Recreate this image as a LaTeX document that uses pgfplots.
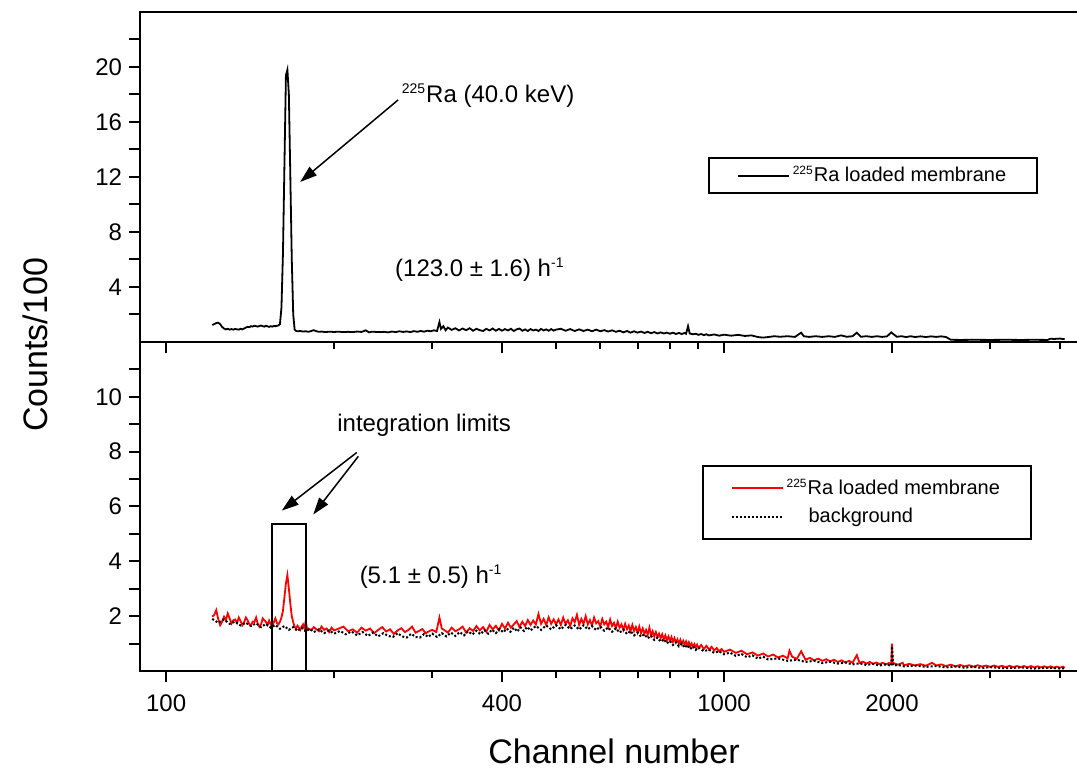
\documentclass[border=0pt]{standalone}
\usepackage{fontspec}
\setmainfont{Liberation Sans}
\usepackage{pgfplots}
\pgfplotsset{compat=1.18}
\usetikzlibrary{arrows.meta}

\newcommand{\sups}[2]{\textsuperscript{\fontsize{#1}{#1}\selectfont #2}}

\pgfplotsset{
  every axis/.append style={
    width=473.5pt, scale only axis, anchor=south west,
    axis line style={line width=1pt},
    every tick/.style={line width=1pt, black},
    tick align=outside,
    xtick pos=lower, ytick pos=left,
    major tick length=5.5pt, minor tick length=3.5pt,
    tick label style={font=\fontsize{12}{12}\selectfont},
    clip mode=individual,
    legend cell align=left,
    legend style={anchor=north west, draw=black, line width=1pt,
      font=\fontsize{10}{12}\selectfont, inner xsep=14pt, inner ysep=2.5pt,
      nodes={inner sep=1.5pt}},
  },
  legend image code/.code={\draw[#1] (0pt,0pt) -- (25.5pt,0pt);},
}

\begin{document}
\begin{tikzpicture}

% upper panel: 225Ra loaded membrane
\begin{axis}[xmode=log, xmin=89.8, xmax=4473, ymin=0, ymax=24,
  at={(0,164.5pt)}, height=165pt,
  xtick={100,400,1000,2000},
  minor xtick={200,300,500,600,700,800,900,3000,4000},
  xticklabels={\relax,\relax,\relax,\relax},
  ytick={2,4,...,22}, yticklabels={,4,,8,,12,,16,,20,},
  legend style={at={(0.5998,0.5597)}}]
\addplot[black, line width=0.9pt] coordinates {
(121,1.24)(122,1.30)(123,1.38)(124,1.40)(125,1.30)(126,1.10)(127,0.98)(128,0.92)(129,0.96)(130,0.90)
(131,0.94)(132,0.90)(133,0.95)(134,0.92)(135,0.90)(136,0.96)(137,0.92)(138,0.98)(139,1.05)(140,1.10)
(141,1.08)(142,1.15)(143,1.12)(144,1.18)(145,1.15)(146,1.12)(147,1.16)(148,1.20)(149,1.15)(150,1.12)
(151,1.18)(152,1.14)(153,1.10)(154,1.15)(155,1.12)(156,1.16)(157,1.15)(158,1.18)(159,1.20)(160,1.30)
(161,2.5)(162,6.5)(163,13.0)(164,19.4)(165,19.8)(166,18.0)(167,12.0)(168,6.0)(169,2.0)(170,0.90)
(171,0.80)(172,0.78)(174,0.80)(176,0.76)(178,0.78)(180,0.74)(182,0.80)(184,0.86)(186,0.78)(188,0.74)
(190,0.76)(193,0.72)(196,0.75)(200,0.73)(204,0.75)(208,0.72)(212,0.74)(216,0.72)(220,0.76)(224,0.73)
(228,0.85)(231,0.70)(234,0.75)(238,0.73)(242,0.72)(246,0.74)(250,0.70)(254,0.76)(258,0.72)(262,0.78)
(266,0.73)(270,0.77)(274,0.72)(278,0.79)(282,0.74)(286,0.80)(290,0.75)(294,0.82)(298,0.78)(302,0.85)
(306,0.80)(309,1.45)(311,0.95)(314,1.15)(317,0.85)(320,1.05)(325,0.88)(330,1.00)(335,0.84)(340,0.98)
(345,0.86)(350,1.00)(355,0.82)(360,0.96)(365,0.86)(370,0.80)(375,0.96)(380,0.84)(385,0.98)(390,0.82)
(395,0.95)(400,0.82)(405,0.94)(410,0.84)(415,0.96)(420,0.80)(425,0.92)(430,0.98)(435,0.82)(440,0.92)
(445,0.80)(450,0.94)(455,0.84)(460,0.90)(465,0.80)(470,0.95)(475,0.84)(480,0.92)(485,0.82)(490,0.94)
(495,0.83)(500,0.90)(510,0.96)(520,0.82)(530,0.94)(540,0.80)(550,0.92)(560,0.80)(570,0.90)(580,0.78)
(590,0.90)(600,0.78)(610,0.86)(620,0.76)(630,0.85)(640,0.74)(650,0.82)(660,0.70)(670,0.80)(680,0.68)
(690,0.78)(700,0.68)(710,0.76)(720,0.66)(730,0.74)(740,0.64)(750,0.72)(760,0.62)(770,0.70)(780,0.62)
(790,0.68)(800,0.60)(810,0.68)(820,0.58)(830,0.66)(840,0.58)(850,0.66)(855,0.60)(862,1.15)(868,0.62)
(880,0.56)(890,0.60)(900,0.52)(910,0.58)(920,0.50)(930,0.56)(940,0.48)(960,0.55)(980,0.46)(1000,0.53)
(1030,0.46)(1060,0.52)(1090,0.44)(1120,0.48)(1150,0.36)(1175,0.32)(1200,0.36)(1230,0.42)(1260,0.38)
(1300,0.42)(1340,0.37)(1375,0.68)(1390,0.42)(1420,0.37)(1460,0.42)(1500,0.37)(1540,0.42)(1580,0.37)
(1620,0.48)(1660,0.38)(1700,0.42)(1730,0.68)(1760,0.38)(1800,0.42)(1840,0.37)(1880,0.42)(1920,0.37)
(1960,0.41)(1994,0.70)(2040,0.38)(2080,0.42)(2120,0.36)(2160,0.42)(2200,0.36)(2250,0.41)(2300,0.36)
(2350,0.41)(2400,0.37)(2450,0.41)(2500,0.36)(2550,0.16)(2650,0.15)(2800,0.16)(3000,0.15)(3200,0.16)
(3400,0.15)(3600,0.16)(3800,0.15)(3850,0.24)(3900,0.22)(4000,0.25)(4080,0.20)
};
\addlegendentry{\sups{6pt}{225}Ra loaded membrane}
\node[anchor=west, font=\fontsize{12}{12}\selectfont] at (axis cs:257,17.9) {\sups{7pt}{225}Ra (40.0 keV)};
\draw[line width=0.75pt, -{Triangle[length=8.5pt,width=5.5pt]}] (axis cs:260.5,17.6) -- (axis cs:173.9,11.64);
\node[anchor=west, font=\fontsize{12}{12}\selectfont] at (axis cs:250,5.24) {(123.0 ± 1.6) h\sups{7pt}{-1}};
\end{axis}

% lower panel: loaded membrane and background
\begin{axis}[xmode=log, xmin=89.8, xmax=4473, ymin=0, ymax=12,
  at={(0,0)}, height=164.5pt,
  xtick={100,400,1000,2000},
  minor xtick={200,300,500,600,700,800,900,3000,4000},
  xticklabels={100,400,1000,2000},
  xticklabel style={yshift=-3pt},
  ytick={1,...,11}, yticklabels={,2,,4,,6,,8,,10,},
  legend style={at={(0.593,0.626)}, row sep=2.2pt, inner ysep=5pt}]
\addplot[red, line width=0.9pt] coordinates {
(121,1.98)(122,2.05)(123,2.22)(124,1.90)(125,1.67)(126,1.80)(127,1.98)(128,1.85)(129,2.10)(130,1.92)
(131,1.73)(132,1.85)(133,1.88)(134,1.75)(135,1.95)(136,1.82)(137,1.67)(138,1.78)(139,1.95)(140,1.85)
(141,1.70)(142,1.67)(143,1.80)(144,1.79)(145,1.95)(146,1.72)(147,1.61)(148,1.70)(149,1.92)(150,1.85)
(151,1.79)(152,1.68)(153,1.84)(154,1.70)(155,1.62)(156,1.78)(157,1.92)(158,1.75)(159,1.70)(160,1.80)
(161,1.95)(162,2.20)(163,2.70)(164,3.20)(165,3.50)(166,3.00)(167,2.45)(168,2.00)(169,1.78)(170,1.60)
(171,1.55)(172,1.65)(173,1.58)(174,1.50)(175,1.62)(176,1.70)(177,1.55)(178,1.85)(179,1.50)(180,1.55)
(182,1.49)(184,1.60)(186,1.52)(188,1.45)(190,1.62)(192,1.50)(194,1.55)(196,1.42)(198,1.58)(200,1.48)
(204,1.55)(208,1.62)(212,1.45)(216,1.52)(220,1.40)(224,1.58)(228,1.47)(232,1.55)(236,1.38)(240,1.50)
(244,1.60)(248,1.44)(252,1.52)(256,1.35)(260,1.48)(264,1.56)(268,1.42)(272,1.50)(276,1.62)(280,1.40)
(284,1.46)(288,1.53)(292,1.38)(296,1.45)(300,1.50)(305,1.42)(309,1.95)(312,1.55)(316,1.48)(320,1.40)
(325,1.58)(330,1.45)(335,1.52)(340,1.62)(345,1.40)(350,1.56)(355,1.46)(360,1.64)(365,1.48)(370,1.60)
(375,1.43)(380,1.68)(385,1.52)(390,1.65)(395,1.48)(400,1.72)(405,1.55)(410,1.76)(415,1.58)(420,1.70)
(425,1.82)(430,1.60)(435,1.80)(440,1.64)(445,1.86)(450,1.68)(455,1.84)(460,1.70)(465,2.08)(470,1.72)
(475,1.90)(480,1.68)(485,1.96)(490,1.72)(495,1.88)(500,1.70)(505,1.88)(510,1.68)(515,1.95)(520,1.72)
(525,1.85)(530,1.64)(535,1.92)(540,1.78)(545,2.05)(550,1.68)(555,1.90)(560,1.72)(565,2.00)(570,1.70)
(575,1.86)(580,1.66)(585,1.95)(590,1.74)(595,1.82)(600,1.62)(605,1.90)(610,1.70)(615,1.80)(620,1.60)
(625,1.88)(630,1.64)(635,1.76)(640,1.56)(645,1.80)(650,1.58)(655,1.70)(660,1.50)(665,1.72)(670,1.52)
(675,1.66)(680,1.45)(685,1.68)(690,1.46)(695,1.60)(700,1.40)(705,1.62)(710,1.38)(715,1.55)(720,1.36)
(725,1.50)(730,1.32)(735,1.58)(740,1.30)(745,1.45)(750,1.26)(755,1.42)(760,1.24)(765,1.36)(770,1.20)
(775,1.34)(780,1.16)(785,1.30)(790,1.12)(795,1.26)(800,1.10)(805,1.24)(810,1.06)(815,1.20)(820,1.04)
(825,1.15)(830,1.00)(835,1.14)(840,0.98)(845,1.10)(850,0.96)(855,1.08)(860,0.93)(865,1.05)(870,0.90)
(875,1.00)(880,0.88)(885,0.98)(890,0.86)(895,0.96)(900,0.84)(910,0.95)(920,0.80)(930,0.92)(940,0.78)
(950,0.88)(960,0.75)(970,0.84)(980,0.72)(990,0.80)(1000,0.70)(1025,0.78)(1050,0.66)(1075,0.74)(1100,0.61)
(1125,0.68)(1150,0.56)(1175,0.64)(1200,0.53)(1225,0.60)(1250,0.49)(1275,0.56)(1300,0.46)(1310,0.74)(1325,0.52)
(1350,0.44)(1375,0.72)(1400,0.41)(1425,0.48)(1450,0.39)(1475,0.45)(1500,0.37)(1525,0.43)(1550,0.35)(1575,0.41)
(1600,0.33)(1625,0.39)(1650,0.31)(1675,0.37)(1700,0.30)(1730,0.58)(1750,0.29)(1775,0.34)(1800,0.27)(1825,0.33)
(1850,0.26)(1875,0.31)(1900,0.25)(1925,0.30)(1950,0.24)(1975,0.29)(1995,0.25)(2000,1.00)(2005,0.30)(2050,0.23)
(2090,0.30)(2100,0.21)(2150,0.26)(2200,0.20)(2250,0.25)(2300,0.19)(2360,0.30)(2400,0.20)(2450,0.24)(2500,0.18)
(2550,0.23)(2600,0.17)(2650,0.22)(2700,0.17)(2750,0.21)(2800,0.16)(2850,0.21)(2900,0.16)(2950,0.20)(3000,0.15)
(3050,0.20)(3100,0.15)(3150,0.19)(3200,0.14)(3250,0.19)(3300,0.14)(3350,0.18)(3400,0.14)(3450,0.18)(3500,0.13)
(3550,0.18)(3600,0.13)(3650,0.17)(3700,0.13)(3750,0.17)(3800,0.12)(3850,0.17)(3900,0.12)(3950,0.16)(4000,0.12)
(4050,0.16)(4080,0.12)
};
\addlegendentry{\sups{6pt}{225}Ra loaded membrane}
\addplot[black, line width=1pt, densely dotted] coordinates {
(121,1.90)(124,1.76)(127,1.88)(130,1.72)(133,1.80)(136,1.66)(139,1.76)(142,1.64)(145,1.74)(148,1.60)
(151,1.72)(154,1.58)(157,1.68)(160,1.54)(163,1.64)(166,1.50)(169,1.60)(172,1.46)(175,1.58)(178,1.44)
(181,1.54)(184,1.42)(188,1.52)(192,1.38)(196,1.48)(200,1.36)(205,1.46)(210,1.34)(215,1.44)(220,1.30)
(225,1.42)(230,1.28)(235,1.40)(240,1.26)(245,1.38)(250,1.28)(255,1.24)(260,1.38)(265,1.26)(270,1.22)
(275,1.36)(280,1.24)(285,1.22)(290,1.35)(295,1.24)(300,1.36)(306,1.24)(312,1.38)(318,1.26)(324,1.40)
(330,1.28)(336,1.42)(342,1.30)(348,1.45)(354,1.33)(360,1.47)(366,1.34)(372,1.49)(378,1.36)(384,1.51)
(390,1.38)(396,1.53)(402,1.41)(408,1.55)(414,1.43)(420,1.58)(426,1.44)(432,1.59)(438,1.46)(444,1.61)
(450,1.48)(460,1.64)(470,1.50)(480,1.66)(490,1.52)(500,1.67)(510,1.52)(520,1.68)(530,1.53)(540,1.66)
(550,1.51)(560,1.67)(570,1.52)(580,1.64)(590,1.49)(600,1.62)(610,1.47)(620,1.59)(630,1.43)(640,1.56)
(650,1.40)(660,1.51)(670,1.35)(680,1.46)(690,1.30)(700,1.40)(710,1.25)(720,1.34)(730,1.19)(740,1.29)
(750,1.13)(760,1.22)(770,1.07)(780,1.16)(790,1.01)(800,1.10)(810,0.95)(820,1.05)(830,0.90)(840,1.00)
(850,0.85)(860,0.95)(870,0.80)(880,0.90)(890,0.77)(900,0.86)(920,0.72)(940,0.78)(960,0.66)(980,0.72)
(1000,0.61)(1025,0.67)(1050,0.55)(1075,0.62)(1100,0.50)(1125,0.57)(1150,0.45)(1175,0.52)(1200,0.42)(1250,0.46)
(1300,0.37)(1350,0.41)(1400,0.33)(1450,0.37)(1500,0.29)(1550,0.34)(1600,0.27)(1650,0.31)(1700,0.24)(1750,0.28)
(1800,0.22)(1850,0.26)(1900,0.20)(1950,0.24)(1995,0.19)(2000,0.90)(2005,0.60)(2010,0.20)(2050,0.22)(2100,0.17)
(2200,0.20)(2300,0.15)(2400,0.18)(2500,0.13)(2600,0.16)(2700,0.12)(2800,0.15)(2900,0.11)(3000,0.14)(3200,0.10)
(3400,0.13)(3600,0.09)(3800,0.12)(4000,0.09)(4080,0.10)
};
\addlegendentry{\hspace{11pt}background}
\draw[line width=1pt] (axis cs:155,0) rectangle (axis cs:178,5.37);
\node[anchor=west, font=\fontsize{12}{12}\selectfont] at (axis cs:197,8.98) {integration limits};
\draw[line width=0.75pt, -{Triangle[length=8.5pt,width=5.5pt]}] (axis cs:219.7,7.97) -- (axis cs:161.2,5.85);
\draw[line width=0.75pt, -{Triangle[length=8.5pt,width=5.5pt]}] (axis cs:221.1,7.83) -- (axis cs:183.6,5.71);
\node[anchor=west, font=\fontsize{12}{12}\selectfont] at (axis cs:216,3.43) {(5.1 ± 0.5) h\sups{7pt}{-1}};
\end{axis}

\node[rotate=90, font=\fontsize{17}{17}\selectfont] at (-52.5pt,163pt) {Counts/100};
\node[font=\fontsize{17}{17}\selectfont, inner sep=1pt] at (237pt,-40pt) {Channel number};

\pgfresetboundingbox
\path[use as bounding box] (-70pt,-50pt) rectangle (468.5pt,335.5pt);
\end{tikzpicture}
\end{document}
